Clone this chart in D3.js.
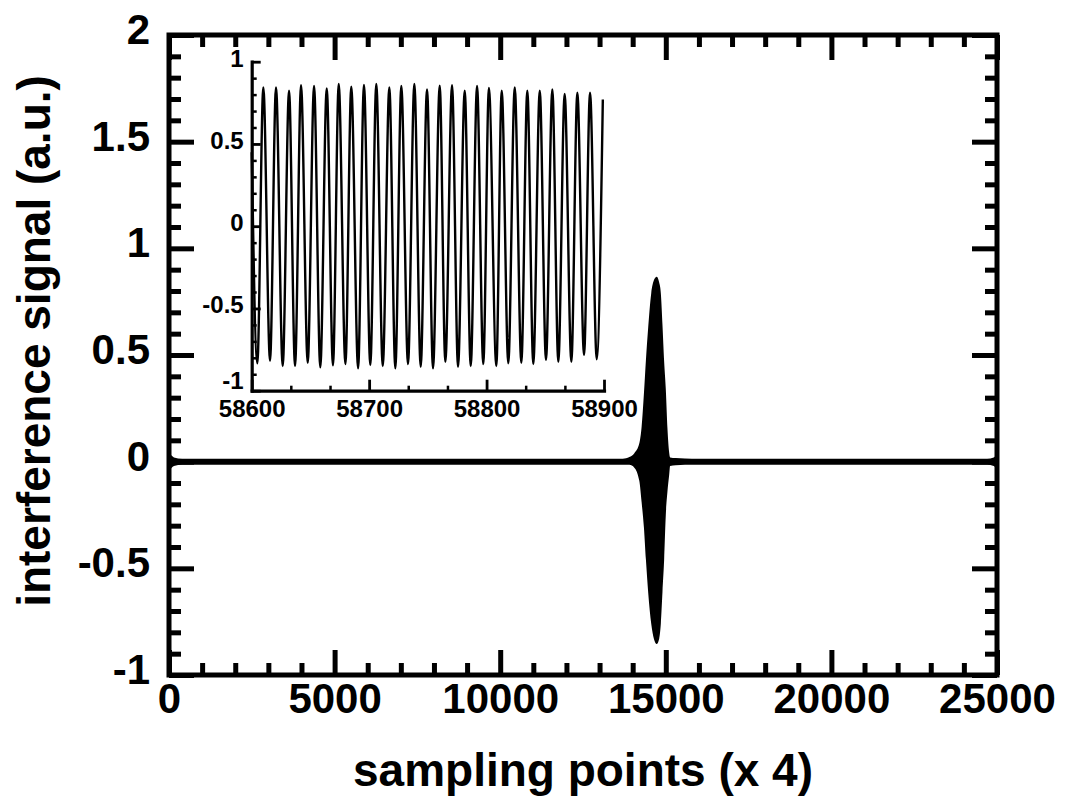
<!DOCTYPE html>
<html><head><meta charset="utf-8">
<script src="https://cdn.jsdelivr.net/npm/d3@7"></script>
<style>
body{margin:0;background:#fff}
svg text{font-family:"Liberation Sans",Arial,Helvetica,sans-serif;font-weight:bold;fill:#000}
</style>
</head><body>
<svg id="c" width="1067" height="804"></svg>
<script>
// ---------- data ----------
const mainXTicks = [0, 5000, 10000, 15000, 20000, 25000];
const mainXLabels = ["0", "5000", "10000", "15000", "20000", "25000"];
const mainYTicks = [-1, -0.5, 0, 0.5, 1, 1.5, 2];
const mainYLabels = ["-1", "-0.5", "0", "0.5", "1", "1.5", "2"];

// envelope of the interference signal (upper / lower extent)
const envX     = [0, 150, 400, 13700, 13900, 14050, 14200, 14270, 14340, 14400, 14470, 14560, 14640, 14725, 14800, 14850, 14900, 14950, 15000, 15050, 15100, 15130, 15300, 15580, 16000, 24700, 24900, 25000];
const envUpper = [0.045, 0.02, 0.014, 0.014, 0.022, 0.04, 0.086, 0.164, 0.321, 0.477, 0.633, 0.79, 0.85, 0.867, 0.84, 0.79, 0.64, 0.47, 0.34, 0.155, 0.045, 0.02, 0.017, 0.015, 0.014, 0.014, 0.02, 0.035];
const envLower = [-0.045, -0.02, -0.014, -0.014, -0.015, -0.028, -0.09, -0.19, -0.31, -0.46, -0.617, -0.76, -0.83, -0.855, -0.83, -0.76, -0.61, -0.46, -0.25, -0.14, -0.065, -0.02, -0.017, -0.015, -0.014, -0.014, -0.02, -0.035];

// inset: zoomed signal 58600..58900 (extrema)
const insetX = [58600, 58604.8, 58609.9, 58615.6, 58620.7, 58626.4, 58631.8, 58636.9, 58642.0, 58647.7, 58653.1, 58658.4, 58663.9, 58669.2, 58674.1, 58679.8, 58684.8, 58690.6, 58695.6, 58701.0, 58706.1, 58711.6, 58717.2, 58722.3, 58727.4, 58733.1, 58738.5, 58743.9, 58749.3, 58754.4, 58760.1, 58764.9, 58770.6, 58775.7, 58781.4, 58786.5, 58791.9, 58797.2, 58802.0, 58808.3, 58812.9, 58818.5, 58824.0, 58829.6, 58834.7, 58839.8, 58845.3, 58850.6, 58856.0, 58861.1, 58866.5, 58872.2, 58877.3, 58883.0, 58888.1, 58893.8, 58899.0];
const insetY = [0.45, -0.833, 0.844, -0.818, 0.844, -0.850, 0.824, -0.850, 0.857, -0.830, 0.852, -0.858, 0.838, -0.846, 0.864, -0.838, 0.848, -0.864, 0.858, -0.844, 0.864, -0.850, 0.844, -0.864, 0.852, -0.838, 0.864, -0.854, 0.832, -0.864, 0.854, -0.824, 0.857, -0.854, 0.824, -0.850, 0.852, -0.838, 0.841, -0.850, 0.824, -0.833, 0.844, -0.830, 0.824, -0.838, 0.824, -0.813, 0.832, -0.824, 0.804, -0.824, 0.812, -0.783, 0.812, -0.809, 0.77];
const insetXTicks = [58600, 58700, 58800, 58900];
const insetXMinor = [58633.3, 58666.7, 58733.3, 58766.7, 58833.3, 58866.7];
const insetYTicks = [-1, -0.5, 0, 0.5, 1];
const insetYLabels = ["-1", "-0.5", "0", "0.5", "1"];

const xTitle = "sampling points (x 4)";
const yTitle = "interference signal (a.u.)";

// ---------- layout ----------
const svg = d3.select("#c");
const L = 169, R = 997, T = 35, B = 675;
const x = d3.scaleLinear().domain([0, 25000]).range([L, R]);
const y = d3.scaleLinear().domain([-1, 2]).range([B, T]);

// signal envelope (solid black)
const area = d3.area()
  .x(i => x(envX[i]))
  .y0(i => y(envLower[i]))
  .y1(i => y(envUpper[i]))
  .curve(d3.curveMonotoneX);
svg.append("path").attr("d", area(d3.range(envX.length))).attr("fill", "#000");

// ticks
function styleAxis(g, sw) {
  g.select(".domain").remove();
  g.selectAll(".tick line").attr("stroke", "#000").attr("stroke-width", sw);
}
const minorX = d3.range(0, 25001, 1000).filter(v => v % 5000 !== 0);
const minorY = d3.range(-10, 21, 1).map(v => v / 10).filter(v => Math.abs(v * 2 - Math.round(v * 2)) > 1e-6);

const fs = 42;
// bottom
svg.append("g").attr("transform", `translate(0,${B})`)
  .call(d3.axisBottom(x).tickValues(minorX).tickSize(-12).tickFormat(""))
  .call(g => styleAxis(g, 5));
svg.append("g").attr("transform", `translate(0,${B})`)
  .call(d3.axisBottom(x).tickValues(mainXTicks).tickSize(-25).tickPadding(8)
        .tickFormat((d, i) => mainXLabels[i]))
  .call(g => styleAxis(g, 5))
  .call(g => g.selectAll("text").attr("font-size", fs).attr("font-family", null));
// top
svg.append("g").attr("transform", `translate(0,${T})`)
  .call(d3.axisTop(x).tickValues(minorX).tickSize(-12).tickFormat(""))
  .call(g => styleAxis(g, 5));
svg.append("g").attr("transform", `translate(0,${T})`)
  .call(d3.axisTop(x).tickValues(mainXTicks).tickSize(-25).tickFormat(""))
  .call(g => styleAxis(g, 5));
// left
svg.append("g").attr("transform", `translate(${L},0)`)
  .call(d3.axisLeft(y).tickValues(minorY).tickSize(-12).tickFormat(""))
  .call(g => styleAxis(g, 5));
svg.append("g").attr("transform", `translate(${L},0)`)
  .call(d3.axisLeft(y).tickValues(mainYTicks).tickSize(-25).tickPadding(19)
        .tickFormat((d, i) => mainYLabels[i]))
  .call(g => styleAxis(g, 5))
  .call(g => g.selectAll("text").attr("font-size", fs).attr("font-family", null).attr("dy", "0.2em"));
// right
svg.append("g").attr("transform", `translate(${R},0)`)
  .call(d3.axisRight(y).tickValues(minorY).tickSize(-12).tickFormat(""))
  .call(g => styleAxis(g, 5));
svg.append("g").attr("transform", `translate(${R},0)`)
  .call(d3.axisRight(y).tickValues(mainYTicks).tickSize(-25).tickFormat(""))
  .call(g => styleAxis(g, 5));

// frame
svg.append("rect").attr("x", L).attr("y", T).attr("width", R - L).attr("height", B - T)
  .attr("fill", "none").attr("stroke", "#000").attr("stroke-width", 5);

// titles
svg.append("text").attr("x", (L + R) / 2).attr("y", 786).attr("text-anchor", "middle")
  .attr("font-size", 46).text(xTitle);
svg.append("text").attr("transform", "translate(50,341) rotate(-90)").attr("text-anchor", "middle")
  .attr("font-size", 46).text(yTitle);

// ---------- inset ----------
const iL = 251.7, iR = 604, iT = 61.7, iB = 390.7;
const xi = d3.scaleLinear().domain([58600, 58900]).range([iL, iR]);
const yi = d3.scaleLinear().domain([-1, 1]).range([iB, iT]);

const line = d3.line().x(i => xi(insetX[i])).y(i => yi(insetY[i])).curve(d3.curveMonotoneX);
svg.append("path").attr("d", line(d3.range(insetX.length)))
  .attr("fill", "none").attr("stroke", "#000").attr("stroke-width", 2.4);

const ifs = 24;
const insetMinorY = d3.range(-10, 11, 1).map(v => v / 10).filter(v => Math.abs(v * 2 - Math.round(v * 2)) > 1e-6);
svg.append("g").attr("transform", `translate(${iL},0)`)
  .call(d3.axisLeft(yi).tickValues(insetMinorY).tickSize(-5).tickFormat(""))
  .call(g => styleAxis(g, 2.5));
svg.append("g").attr("transform", `translate(${iL},0)`)
  .call(d3.axisLeft(yi).tickValues(insetYTicks).tickSize(-9).tickSizeOuter(0).tickPadding(8)
        .tickFormat((d, i) => insetYLabels[i]))
  .call(g => g.select(".domain").attr("stroke-width", 3.2).attr("stroke-linecap", "square"))
  .call(g => g.selectAll(".tick line").attr("stroke-width", 2.8))
  .call(g => g.selectAll("text").attr("font-size", ifs).attr("font-family", null)
        .attr("dy", d => d === -1 ? "-0.08em" : "0.18em"));
svg.append("g").attr("transform", `translate(0,${iB})`)
  .call(d3.axisBottom(xi).tickValues(insetXMinor).tickSize(-5).tickFormat(""))
  .call(g => styleAxis(g, 2.5));
svg.append("g").attr("transform", `translate(0,${iB})`)
  .call(d3.axisBottom(xi).tickValues(insetXTicks).tickSize(-11).tickSizeOuter(0).tickPadding(9)
        .tickFormat(d3.format("d")))
  .call(g => g.select(".domain").attr("stroke-width", 3.2).attr("stroke-linecap", "square"))
  .call(g => g.selectAll(".tick line").attr("stroke-width", 2.8))
  .call(g => g.selectAll("text").attr("font-size", ifs).attr("font-family", null));
</script>
</body></html>
